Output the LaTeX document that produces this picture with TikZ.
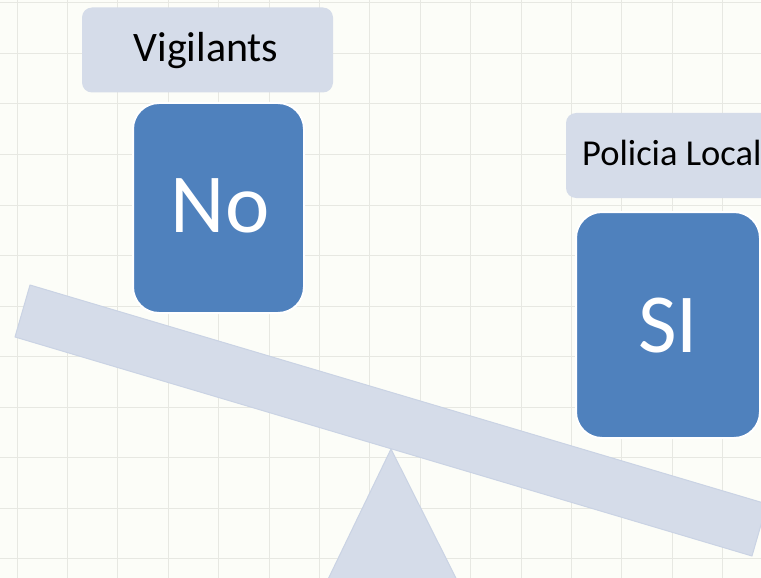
\documentclass[tikz,border=0pt]{standalone}
\usepackage{fontspec}
\setmainfont{Carlito}
\definecolor{bgc}{RGB}{252,253,248}
\definecolor{gridc}{RGB}{231,232,226}
\definecolor{labelc}{RGB}{213,220,233}
\definecolor{plankc}{RGB}{213,220,233}
\definecolor{plankedge}{RGB}{202,211,228}
\definecolor{bluec}{RGB}{79,129,189}
\begin{document}
\begin{tikzpicture}[x=1pt,y=-1pt,
  labelbox/.style={draw=none,fill=labelc,rounded corners=10pt,inner sep=0pt,minimum width=#1,minimum height=85pt},
  bluebox/.style={draw=white,line width=2pt,fill=bluec,rounded corners=26pt,inner sep=0pt},
  lbltext/.style={inner sep=0pt,text=black,anchor=base},
  bigtext/.style={inner sep=0pt,text=white,anchor=base,font=\fontsize{84}{90}\selectfont},
  gridline/.style={draw=gridc,line width=1pt}]
\useasboundingbox (0,0) rectangle (761,578);
\clip (0,0) rectangle (761,578);
\fill[bgc] (0,0) rectangle (761,578);
% grid
\foreach \k in {0,...,14} {
  \draw[gridline] ({17+50.4*\k},0) -- ({17+50.4*\k},578);
}
\foreach \k in {0,...,11} {
  \draw[gridline] (0,{3+50.5*\k}) -- (761,{3+50.5*\k});
}
% fulcrum
\coordinate (apex) at (391,449);
\coordinate (bl) at (318,600);
\coordinate (br) at (467,600);
\filldraw[fill=plankc,draw=plankedge,line width=1pt,line join=round] (apex) -- (br) -- (bl) -- cycle;
% plank
\coordinate (p1) at (30,285);
\coordinate (p2) at (767,504);
\coordinate (p3) at (752,556);
\coordinate (p4) at (15,337);
\filldraw[fill=plankc,draw=plankedge,line width=1pt,line join=round] (p1) -- (p2) -- (p3) -- (p4) -- cycle;
% label boxes
\node[labelbox=251pt] (vigbox) at (207.5,50) {};
\node[lbltext,font=\fontsize{42}{48}\selectfont] (vigtext) at (206,62) {Vigilants};
\node[labelbox=230pt] (polbox) at (681,155.5) {};
\node[inner sep=0pt,text=black,anchor=base west,font=\fontsize{36.5}{42}\selectfont] (poltext) at (582,165) {Policia Local};
% blue boxes
\node[bluebox,minimum width=171pt,minimum height=210pt] (nobox) at (218.5,208) {};
\node[bigtext] (notext) at (220,232) {No};
\node[bluebox,minimum width=184pt,minimum height=226pt] (sibox) at (668,325) {};
\node[bigtext] (sitext) at (668,352) {SI};
\end{tikzpicture}
\end{document}
